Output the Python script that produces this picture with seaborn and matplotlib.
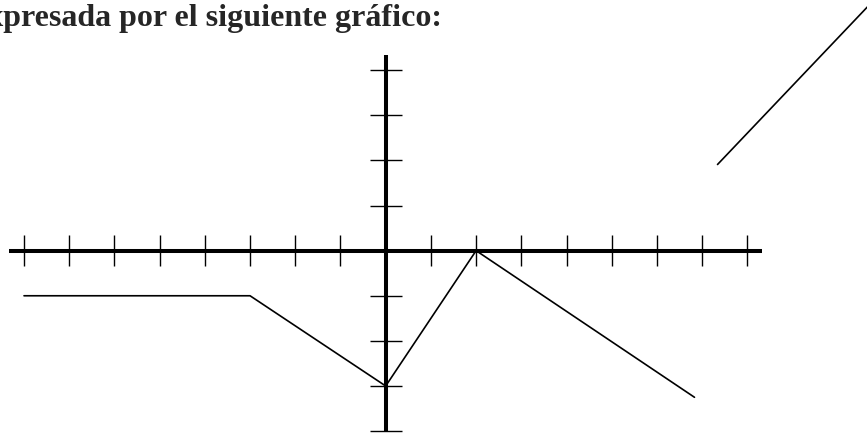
import pandas as pd
import seaborn as sns
import matplotlib
matplotlib.use("Agg")
import matplotlib.pyplot as plt
import numpy as np

# function pieces (x, y in axis units)
piece_a_x = [-8, -3, 0, 2, 6.83]
piece_a_y = [-1, -1, -3, 0, -3.25]
piece_b_x = [7.34, 10.7]
piece_b_y = [1.91, 5.45]

x_ticks = [-8, -7, -6, -5, -4, -3, -2, -1, 1, 2, 3, 4, 5, 6, 7, 8]
y_ticks = [-4, -3, -2, -1, 1, 2, 3, 4]

title = "expresada por el siguiente gráfico:"

df = pd.DataFrame({
    "x": piece_a_x + piece_b_x,
    "y": piece_a_y + piece_b_y,
    "tramo": ["a"] * len(piece_a_x) + ["b"] * len(piece_b_x),
})

sns.set_style("white")
plt.rcParams["font.family"] = ["Liberation Serif", "DejaVu Serif"]

fig = plt.figure(figsize=(8.67, 4.35), dpi=100)
ax = fig.add_axes([0, 0, 1, 1])

# axes of the sketch
ax.plot([-8.33, 8.32], [0, 0], color="black", lw=2.9, solid_capstyle="butt")
ax.plot([0, 0], [-4.0, 4.34], color="black", lw=2.9, solid_capstyle="butt")
ax.vlines(x_ticks, -0.344, 0.344, color="black", lw=1.0)
ax.hlines(y_ticks, -0.35, 0.35, color="black", lw=1.0)

sns.lineplot(data=df, x="x", y="y", units="tramo", estimator=None, sort=False,
             color="black", lw=1.2, ax=ax)

ax.set_xlim(-8.531, 10.646)
ax.set_ylim(-4.064, 5.578)
ax.axis("off")

fig.text(441.7 / 867, 1 - 26 / 435, title, ha="right", va="baseline",
         fontsize=23, fontweight="bold")

fig.savefig("out.png", dpi=100)
